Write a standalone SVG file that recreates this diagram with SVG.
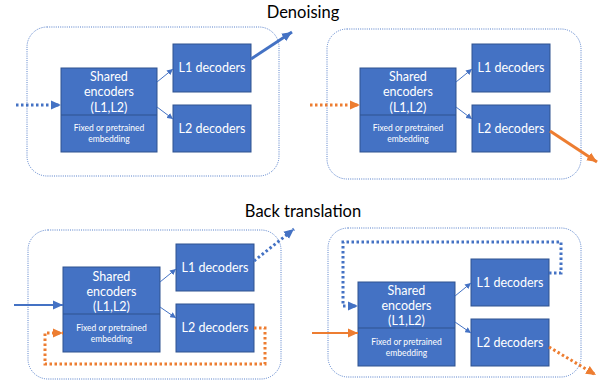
<svg xmlns="http://www.w3.org/2000/svg" width="606" height="383" viewBox="0 0 606 383">
<style>
.frame{fill:none;stroke:#4472C4;stroke-width:0.9;stroke-dasharray:1 1.2}
.box{fill:#4472C4;stroke:#2F528F;stroke-width:1}
.div{stroke:#2F528F;stroke-width:1}
.t{font-family:Lato,"Liberation Sans",sans-serif;fill:#fff;text-anchor:middle}
.big{font-size:12.5px}
.sm{font-size:8.5px}
.title{font-family:Lato,"Liberation Sans",sans-serif;font-size:16.5px;fill:#000;text-anchor:middle}
.thin{stroke:#4472C4;stroke-width:1;fill:none}
.bl{stroke:#4472C4;fill:none}
.or{stroke:#ED7D31;fill:none}
.dot{stroke-dasharray:2.5 2.5}
</style>
<defs>
<marker id="ms" markerUnits="userSpaceOnUse" markerWidth="6" markerHeight="6" refX="6" refY="3" orient="auto"><path d="M0,0L6,3L0,6z" fill="#4472C4"/></marker>
<marker id="mb" markerUnits="userSpaceOnUse" markerWidth="10" markerHeight="10" refX="10" refY="5" orient="auto"><path d="M0,0.5L10,5L0,9.5z" fill="#4472C4"/></marker>
<marker id="mo" markerUnits="userSpaceOnUse" markerWidth="10" markerHeight="10" refX="10" refY="5" orient="auto"><path d="M0,0.5L10,5L0,9.5z" fill="#ED7D31"/></marker>
</defs>
<text class="title" x="303" y="18">Denoising</text>
<text class="title" x="303" y="217">Back translation</text>

<g id="frame1"><rect class="frame" x="27" y="27" width="252" height="149" rx="20"/></g>
<g id="frame2"><rect class="frame" x="327" y="29" width="254" height="150" rx="20"/></g>
<g id="frame3"><rect class="frame" x="28" y="230" width="253" height="149" rx="20"/></g>
<g id="frame4"><rect class="frame" x="328" y="228" width="253" height="149" rx="20"/></g>

<g id="enc1"><rect class="box" x="61" y="68" width="96" height="84"/><line class="div" x1="61" y1="115" x2="157" y2="115"/>
<text class="t big" x="109" y="81">Shared</text><text class="t big" x="109" y="96">encoders</text><text class="t big" x="109" y="112">(L1,L2)</text>
<text class="t sm" x="109" y="131">Fixed or pretrained</text><text class="t sm" x="109" y="142">embedding</text></g>
<g id="l1dec1"><rect class="box" x="173" y="44" width="78" height="48"/><text class="t big" x="212" y="72">L1 decoders</text></g>
<g id="l2dec1"><rect class="box" x="173" y="105" width="78" height="47"/><text class="t big" x="212" y="133">L2 decoders</text></g>

<g id="enc2"><rect class="box" x="360" y="68" width="96" height="84"/><line class="div" x1="360" y1="115" x2="456" y2="115"/>
<text class="t big" x="408" y="81">Shared</text><text class="t big" x="408" y="96">encoders</text><text class="t big" x="408" y="112">(L1,L2)</text>
<text class="t sm" x="408" y="131">Fixed or pretrained</text><text class="t sm" x="408" y="142">embedding</text></g>
<g id="l1dec2"><rect class="box" x="472" y="44" width="78" height="48"/><text class="t big" x="511" y="72">L1 decoders</text></g>
<g id="l2dec2"><rect class="box" x="472" y="105" width="78" height="47"/><text class="t big" x="511" y="133">L2 decoders</text></g>

<g id="enc3"><rect class="box" x="63" y="267" width="97" height="85"/><line class="div" x1="63" y1="314" x2="160" y2="314"/>
<text class="t big" x="111.5" y="281">Shared</text><text class="t big" x="111.5" y="296">encoders</text><text class="t big" x="111.5" y="311">(L1,L2)</text>
<text class="t sm" x="111.5" y="331">Fixed or pretrained</text><text class="t sm" x="111.5" y="342">embedding</text></g>
<g id="l1dec3"><rect class="box" x="176" y="244" width="78" height="47"/><text class="t big" x="215" y="272">L1 decoders</text></g>
<g id="l2dec3"><rect class="box" x="176" y="304" width="78" height="48"/><text class="t big" x="215" y="332">L2 decoders</text></g>

<g id="enc4"><rect class="box" x="358" y="282" width="97" height="84"/><line class="div" x1="358" y1="328" x2="455" y2="328"/>
<text class="t big" x="406.5" y="295">Shared</text><text class="t big" x="406.5" y="310">encoders</text><text class="t big" x="406.5" y="325">(L1,L2)</text>
<text class="t sm" x="406.5" y="345">Fixed or pretrained</text><text class="t sm" x="406.5" y="356">embedding</text></g>
<g id="l1dec4"><rect class="box" x="471" y="259" width="78" height="47"/><text class="t big" x="510" y="287">L1 decoders</text></g>
<g id="l2dec4"><rect class="box" x="471" y="319" width="78" height="47"/><text class="t big" x="510" y="347">L2 decoders</text></g>

<g id="connectors">
<line class="bl dot" stroke-width="3" x1="16" y1="105" x2="61" y2="105" marker-end="url(#mb)"/>
<line class="thin" x1="157" y1="82" x2="173" y2="69" marker-end="url(#ms)"/>
<line class="thin" x1="157" y1="107" x2="173" y2="119" marker-end="url(#ms)"/>
<line class="bl" stroke-width="3" x1="251" y1="59" x2="292" y2="32" marker-end="url(#mb)"/>

<line class="or dot" stroke-width="3" x1="310" y1="105" x2="360" y2="105" marker-end="url(#mo)"/>
<line class="thin" x1="456" y1="82" x2="472" y2="69" marker-end="url(#ms)"/>
<line class="thin" x1="456" y1="107" x2="472" y2="119" marker-end="url(#ms)"/>
<line class="or" stroke-width="3" x1="550" y1="131" x2="597" y2="162" marker-end="url(#mo)"/>

<line class="bl" stroke-width="2" x1="14" y1="305" x2="63" y2="305" marker-end="url(#mb)"/>
<line class="thin" x1="160" y1="282" x2="176" y2="269" marker-end="url(#ms)"/>
<line class="thin" x1="160" y1="307" x2="176" y2="318" marker-end="url(#ms)"/>
<line class="bl dot" stroke-width="3" x1="254" y1="261" x2="294" y2="229" marker-end="url(#mb)"/>
<polyline class="or dot" stroke-width="3" points="254,328 265,328 265,364 45,364 45,333 63,333" marker-end="url(#mo)"/>

<polyline class="bl dot" stroke-width="3" points="549,273 561,273 561,242 343,242 343,306 358,306" marker-end="url(#mb)"/>
<line class="or" stroke-width="2" x1="312" y1="333" x2="358" y2="333" marker-end="url(#mo)"/>
<line class="thin" x1="455" y1="296" x2="471" y2="283" marker-end="url(#ms)"/>
<line class="thin" x1="455" y1="322" x2="471" y2="333" marker-end="url(#ms)"/>
<line class="or dot" stroke-width="3" x1="549" y1="347" x2="596" y2="375" marker-end="url(#mo)"/>
</g>
</svg>
